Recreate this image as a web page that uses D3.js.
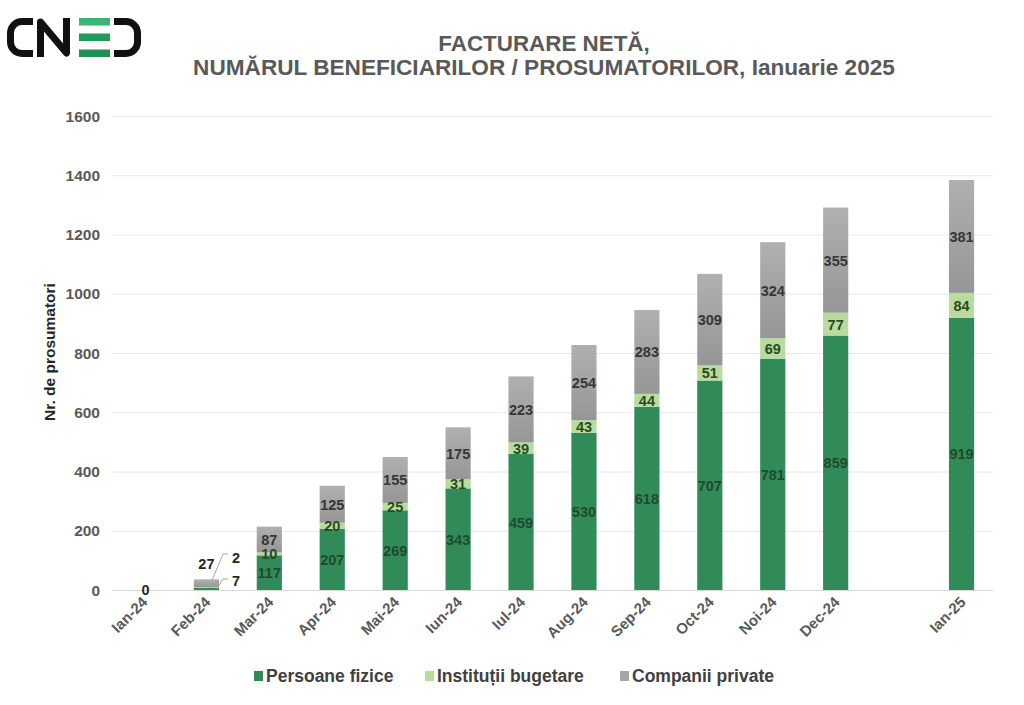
<!DOCTYPE html>
<html><head><meta charset="utf-8">
<script src="https://cdn.jsdelivr.net/npm/d3@7"></script>
<style>
body{margin:0;background:#fff;}
svg{display:block;font-family:"Liberation Sans",Arial,sans-serif;}
</style></head>
<body>
<svg id="c" width="1024" height="705"></svg>
<script>
const categories = ["Ian-24","Feb-24","Mar-24","Apr-24","Mai-24","Iun-24","Iul-24","Aug-24","Sep-24","Oct-24","Noi-24","Dec-24","","Ian-25"];
const persoaneFizice = [0,7,117,207,269,343,459,530,618,707,781,859,null,919];
const institutiiBugetare = [0,2,10,20,25,31,39,43,44,51,69,77,null,84];
const companiiPrivate = [0,27,87,125,155,175,223,254,283,309,324,355,null,381];
const seriesNames = ["Persoane fizice","Instituții bugetare","Companii private"];
const seriesColors = ["#318b59","#b7dc9e","#a6a6a6"];
const labelColors = ["#1f4a2e","#2c4a20","#363636"];
const yTicks = [0,200,400,600,800,1000,1200,1400,1600];

(function(){
const svg = d3.select("#c");
const pLeft = 112, pRight = 993, pTop = 116, pBottom = 590;
const x = d3.scaleBand().domain(categories.map((d,i)=>i)).range([pLeft,pRight]).paddingInner(0.6).paddingOuter(0.3);
const y = d3.scaleLinear().domain([0,1600]).range([pBottom,pTop]);

const defs = svg.append("defs");
const gr = defs.append("linearGradient").attr("id","grayGrad").attr("x1",0).attr("y1",0).attr("x2",0).attr("y2",1);
gr.append("stop").attr("offset","0%").attr("stop-color","#b0b0b0");
gr.append("stop").attr("offset","100%").attr("stop-color","#969696");
const fills = [seriesColors[0], seriesColors[1], "url(#grayGrad)"];

// logo
const logo = svg.append("g");
logo.append("path").attr("d","M33 21.5 L22 21.5 A11.5 11.5 0 0 0 10.5 33 L10.5 42 A11.5 11.5 0 0 0 22 53.5 L33 53.5")
  .attr("fill","none").attr("stroke","#111").attr("stroke-width",7);
logo.append("path").attr("d","M40.5 57 L40.5 22 L66.5 53 L66.5 18")
  .attr("fill","none").attr("stroke","#111").attr("stroke-width",7).attr("stroke-linejoin","round");
[[18,"#3bb574"],[33.5,"#1f9a5a"],[49.5,"#1f8f52"]].forEach(([yy,c])=>{
  logo.append("rect").attr("x",79).attr("y",yy).attr("width",31).attr("height",7.5).attr("fill",c);
});
logo.append("path").attr("d","M114 21.5 L126 21.5 A11.5 11.5 0 0 1 137.5 33 L137.5 42 A11.5 11.5 0 0 1 126 53.5 L114 53.5")
  .attr("fill","none").attr("stroke","#111").attr("stroke-width",7);

// title
svg.append("text").attr("x",544).attr("y",50.5).attr("text-anchor","middle")
  .attr("font-size",22.4).attr("font-weight","bold").attr("fill","#595959").text("FACTURARE NETĂ,");
svg.append("text").attr("x",544).attr("y",75).attr("text-anchor","middle")
  .attr("font-size",22.6).attr("font-weight","bold").attr("fill","#595959").text("NUMĂRUL BENEFICIARILOR / PROSUMATORILOR, Ianuarie 2025");

// grid
svg.append("g").selectAll("line").data(yTicks).join("line")
  .attr("x1",pLeft).attr("x2",pRight).attr("y1",d=>y(d)+0.5).attr("y2",d=>y(d)+0.5)
  .attr("stroke",d=>d===0?"#d9d9d9":"#e8e8e8").attr("stroke-width",1);

// y tick labels
svg.append("g").selectAll("text").data(yTicks).join("text")
  .attr("x",100).attr("y",d=>y(d)+5.5).attr("text-anchor","end")
  .attr("font-size",15.5).attr("font-weight","bold").attr("fill","#595959").text(d=>d);

// y label
svg.append("text").attr("transform","translate(55,352) rotate(-90)").attr("text-anchor","middle")
  .attr("font-size",15.5).attr("font-weight","bold").attr("fill","#262626").text("Nr. de prosumatori");

// x labels
svg.append("g").selectAll("text").data(categories.map((c,i)=>({c,i})).filter(d=>d.c!=="")).join("text")
  .attr("transform",d=>`translate(${x(d.i)+x.bandwidth()/2+5},603) rotate(-45)`)
  .attr("text-anchor","end").attr("font-size",15).attr("font-weight","bold").attr("fill","#595959").text(d=>d.c);

// stack
const rows = categories.map((c,i)=>({i, s0:persoaneFizice[i]||0, s1:institutiiBugetare[i]||0, s2:companiiPrivate[i]||0, valid:persoaneFizice[i]!==null}));
const stack = d3.stack().keys(["s0","s1","s2"])(rows);
const g = svg.append("g");
stack.forEach((layer,k)=>{
  g.selectAll(null).data(layer.filter(d=>d.data.valid && d[1]>d[0])).join("rect")
    .attr("x",d=>x(d.data.i)).attr("width",x.bandwidth())
    .attr("y",d=>y(d[1])).attr("height",d=>y(d[0])-y(d[1]))
    .attr("fill",fills[k]);
});
stack.forEach((layer,k)=>{
  g.selectAll(null).data(layer.filter(d=>d.data.valid && d.data.i>1)).join("text")
    .attr("x",d=>x(d.data.i)+x.bandwidth()/2).attr("y",d=>(y(d[0])+y(d[1]))/2+5.5)
    .attr("text-anchor","middle").attr("font-size",14.5).attr("font-weight","bold").attr("fill",labelColors[k])
    .text(d=>d[1]-d[0]);
});
const c0 = x(0)+x.bandwidth()/2;
g.append("text").attr("x",c0+2).attr("y",y(0)+5).attr("text-anchor","middle")
  .attr("font-size",14.5).attr("font-weight","bold").attr("fill","#262626").text(persoaneFizice[0]);
const c1 = x(1)+x.bandwidth()/2, r1 = x(1)+x.bandwidth();
g.append("text").attr("x",c1).attr("y",569).attr("text-anchor","middle")
  .attr("font-size",14.5).attr("font-weight","bold").attr("fill","#262626").text(companiiPrivate[1]);
g.append("path").attr("d",`M${r1-10},${(y(stack[1][1][0])+y(stack[1][1][1]))/2} L${r1+4},554 L${r1+9},554`)
  .attr("fill","none").attr("stroke","#a6a6a6").attr("stroke-width",1);
g.append("text").attr("x",r1+17).attr("y",563).attr("text-anchor","middle")
  .attr("font-size",14.5).attr("font-weight","bold").attr("fill","#262626").text(institutiiBugetare[1]);
g.append("path").attr("d",`M${r1-2},${(y(stack[0][1][0])+y(stack[0][1][1]))/2} L${r1+4},579 L${r1+9},579`)
  .attr("fill","none").attr("stroke","#a6a6a6").attr("stroke-width",1);
g.append("text").attr("x",r1+17).attr("y",586).attr("text-anchor","middle")
  .attr("font-size",14.5).attr("font-weight","bold").attr("fill","#262626").text(persoaneFizice[1]);

// legend
const legX = [254,425,620];
const leg = svg.append("g");
seriesNames.forEach((n,k)=>{
  leg.append("rect").attr("x",legX[k]).attr("y",671).attr("width",9).attr("height",10).attr("fill",seriesColors[k]);
  leg.append("text").attr("x",legX[k]+12).attr("y",682).attr("font-size",17.5).attr("font-weight","bold").attr("fill","#404040").text(n);
});
})();
</script>
</body></html>
